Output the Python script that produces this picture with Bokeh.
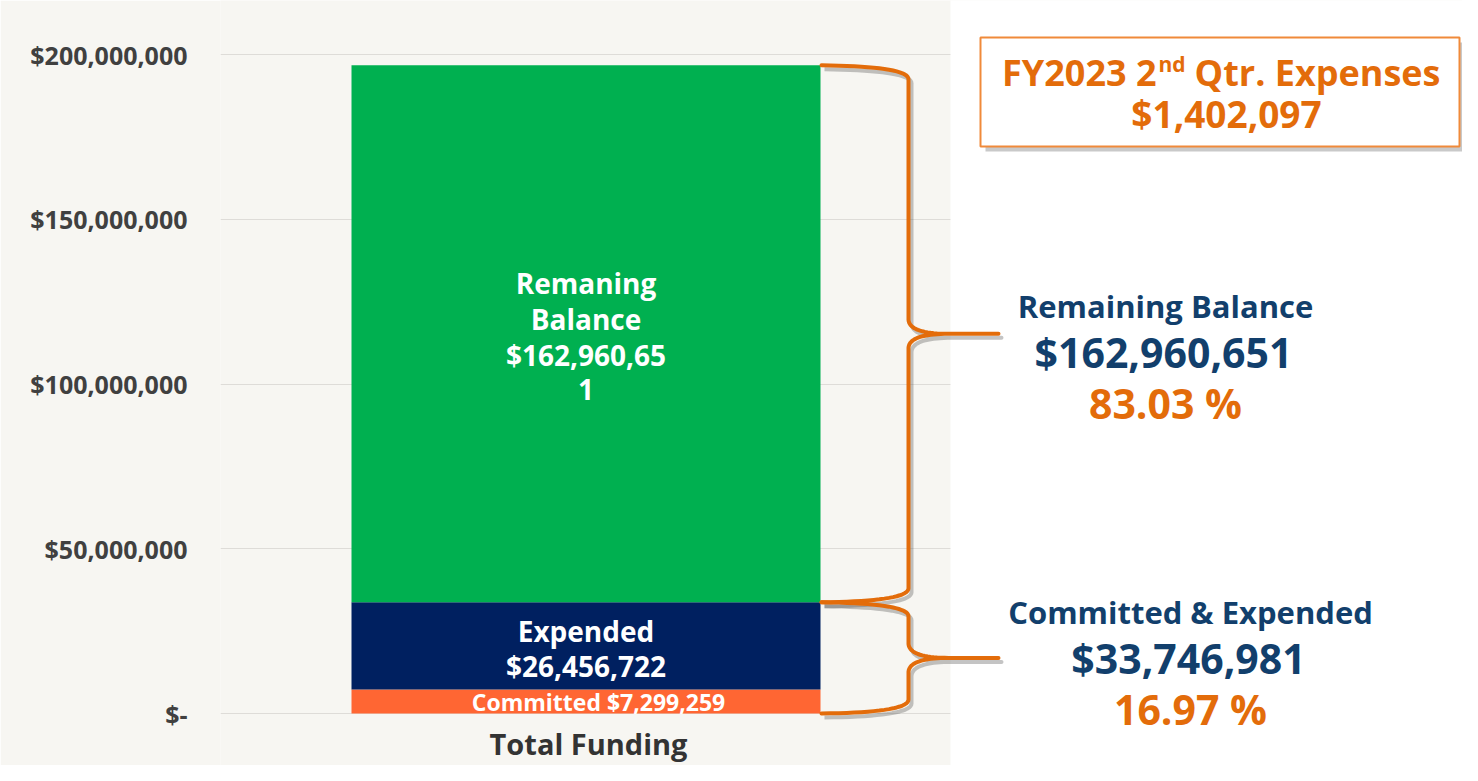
import numpy as np
from bokeh.plotting import figure
from bokeh.models import Range1d, FixedTicker, ColumnDataSource
from bokeh.core.properties import value
from bokeh.embed import file_html
from bokeh.resources import INLINE

# ---------------- data ----------------
category = "Total Funding"
segments = ["Committed", "Expended", "Remaning Balance"]
amounts = [7299259, 26456722, 162960651]
seg_colors = ["#FF6633", "#002060", "#00B050"]
y_ticks = [0, 50000000, 100000000, 150000000, 200000000]
y_tick_labels = ["$-", "$50,000,000", "$100,000,000", "$150,000,000", "$200,000,000"]
quarter_title = "FY2023 2nd Qtr. Expenses"
quarter_expenses = 1402097
remaining_total = 162960651
remaining_pct = 83.03
committed_expended_total = 33746981
committed_expended_pct = 16.97

# ---------------- layout helpers ----------------
FONT = value("Open Sans")
BEIGE = "#F7F6F2"
ORANGE = "#E36C0A"
NAVY = "#123F6C"
Y0_PX, Y200_PX = 713.0, 54.0          # pixel rows of $0 and $200M
K = 200000000 / (Y0_PX - Y200_PX)       # dollars per pixel


def v(py):
    """pixel row -> dollar value"""
    return (Y0_PX - py) * K


W, H = 1462, 765
X_LEFT, X_RIGHT = 220, W

p = figure(width=W, height=H, output_backend="svg", toolbar_location=None,
           x_range=Range1d(X_LEFT, X_RIGHT), y_range=Range1d(v(H), v(0)),
           x_axis_location=None, min_border_left=X_LEFT, min_border_right=0,
           min_border_top=0, min_border_bottom=0)
p.background_fill_color = BEIGE
p.border_fill_color = BEIGE
p.outline_line_color = None
p.xgrid.visible = False
p.ygrid.ticker = FixedTicker(ticks=y_ticks)
p.ygrid.grid_line_color = "#DEDCD8"
p.ygrid.grid_line_width = 1

ax = p.yaxis[0]
ax.ticker = FixedTicker(ticks=y_ticks)
ax.major_label_overrides = {t: l for t, l in zip(y_ticks, y_tick_labels)}
ax.axis_line_color = None
ax.major_tick_line_color = None
ax.minor_tick_line_color = None
ax.major_label_standoff = 27
ax.major_label_text_font = "Open Sans"
ax.major_label_text_font_style = "bold"
ax.major_label_text_font_size = "25px"
ax.major_label_text_color = "#404040"

# white right-hand panel
p.quad(left=950, right=X_RIGHT + 10, bottom=v(H + 20), top=v(-20), fill_color="white", line_color=None)

# ---------------- stacked bar ----------------
tops = np.cumsum(amounts)
bottoms = tops - np.array(amounts)
BAR_X, BAR_W = 585.5, 469
src = ColumnDataSource(dict(bottom=bottoms, top=tops, color=seg_colors))
p.vbar(x=BAR_X, width=BAR_W, bottom="bottom", top="top", fill_color="color", line_color=None, source=src)

# bar labels (one text per wrapped line, as in the original)
rem_str = f"${amounts[2]:,}"
bar_lines = [
    (f"Committed ${amounts[0]:,}", 598, 701, "23px"),
    (segments[1], BAR_X, 630, "28px"),
    (f"${amounts[1]:,}", BAR_X, 665, "28px"),
    ("Remaning", BAR_X, 282, "28px"),
    ("Balance", BAR_X, 318, "28px"),
    (rem_str[:-1], BAR_X, 354, "28px"),
    (rem_str[-1], BAR_X, 389, "28px"),
]
for txt, px, py, fs in bar_lines:
    p.text(x=[px], y=[v(py)], text=[txt], text_align="center", text_baseline="middle",
           text_color="white", text_font=FONT, text_font_style="bold", text_font_size=fs)

# category label
p.text(x=[588], y=[v(743)], text=[category], text_align="center", text_baseline="middle",
       text_color="#333333", text_font=FONT, text_font_style="bold", text_font_size="29px")


# ---------------- braces ----------------
def qbez(p0, c, p1, n=20):
    t = np.linspace(0, 1, n)
    x = (1 - t) ** 2 * p0[0] + 2 * (1 - t) * t * c[0] + t ** 2 * p1[0]
    y = (1 - t) ** 2 * p0[1] + 2 * (1 - t) * t * c[1] + t ** 2 * p1[1]
    return list(x), list(y)


def brace(top, bot, xb=821, xv=908, xt=998):
    mid = (top + bot) / 2
    r = 14 * K
    xs, ys = [xb], [top]
    for seg in [qbez((xb, top), (xv, top - 1 * K), (xv, top - r)),
                ([xv, xv], [top - r, mid + r]),
                qbez((xv, mid + r), (xv + 1, mid), (xv + 40, mid)),
                ([xv + 40, xt, xv + 40], [mid, mid, mid]),
                qbez((xv + 40, mid), (xv + 1, mid), (xv, mid - r)),
                ([xv, xv], [mid - r, bot + r]),
                qbez((xv, bot + r), (xv, bot + 1 * K), (xb, bot))]:
        xs += list(seg[0])
        ys += list(seg[1])
    return np.array(xs), np.array(ys)


for top, bot in [(tops[2], tops[1]), (tops[1], 0)]:
    bx, by = brace(top, bot)
    p.line(bx + 3, by - 4 * K, line_color="#555555", line_alpha=0.35, line_width=4, line_join="round")
    p.line(bx, by, line_color=ORANGE, line_width=4, line_join="round", line_cap="round")

# ---------------- quarter box ----------------
p.quad(left=985, right=1466, bottom=v(151), top=v(42), fill_color="#888888", fill_alpha=0.45, line_color=None)
p.quad(left=980, right=1459, bottom=v(146), top=v(37), fill_color="white", line_color="#F08A3A", line_width=2)

t1, sup, t2 = quarter_title[:8], quarter_title[8:10], quarter_title[11:]
common = dict(text_color=ORANGE, text_font=FONT, text_font_style="bold", text_baseline="middle")
DX = -6
p.text(x=[1162 + DX], y=[v(72)], text=[t1], text_align="right", text_font_size="36px", **common)
p.text(x=[1164 + DX], y=[v(63)], text=[sup], text_align="left", text_font_size="21px", **common)
p.text(x=[1200 + DX], y=[v(72)], text=[t2], text_align="left", text_font_size="36px", **common)
p.text(x=[1226], y=[v(113)], text=[f"${quarter_expenses:,}"], text_align="center", text_font_size="37px", **common)


# ---------------- right-hand summaries ----------------
def summary(cx, y_title, title, title_fs, amount, pct):
    p.text(x=[cx], y=[v(y_title)], text=[title], text_align="center", text_baseline="middle",
           text_color=NAVY, text_font=FONT, text_font_style="bold", text_font_size=title_fs)
    p.text(x=[cx - 2], y=[v(y_title + 46)], text=[f"${amount:,}"], text_align="center", text_baseline="middle",
           text_color=NAVY, text_font=FONT, text_font_style="bold", text_font_size="41px")
    p.text(x=[cx], y=[v(y_title + 97)], text=[f"{pct:.2f} %"], text_align="center", text_baseline="middle",
           text_color=ORANGE, text_font=FONT, text_font_style="bold", text_font_size="41px")


summary(1165, 305, "Remaining Balance", "31px", remaining_total, remaining_pct)
summary(1190, 611, "Committed & Expended", "31px", committed_expended_total, committed_expended_pct)

open("out.html", "w").write(file_html(p, INLINE))
